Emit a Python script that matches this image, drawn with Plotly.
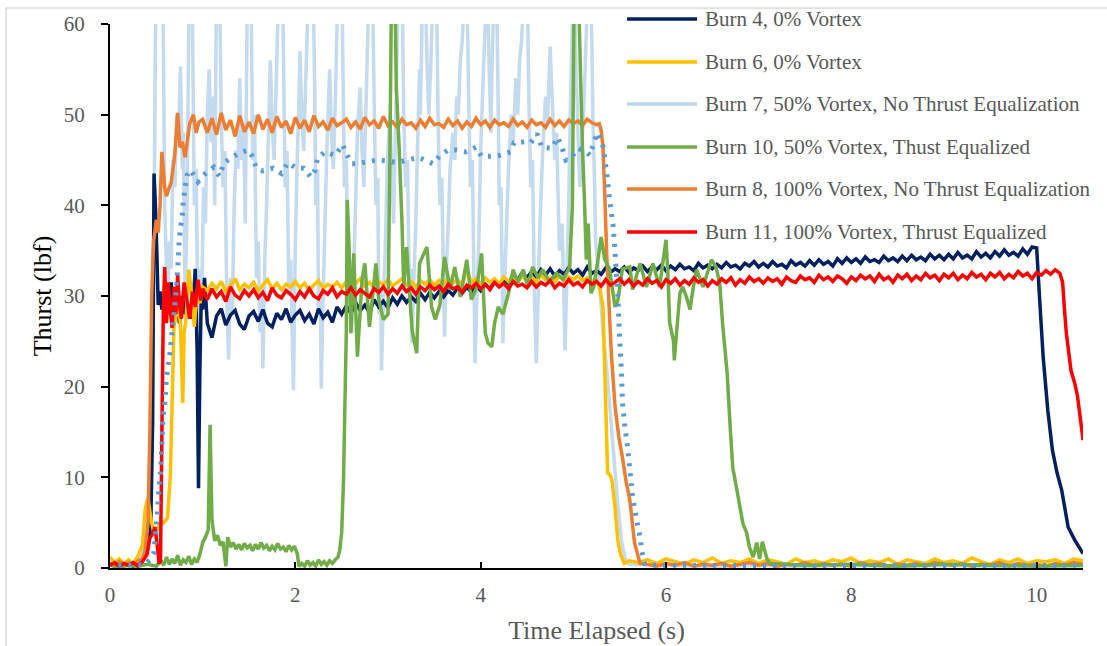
import plotly.graph_objects as go

# ---------------------------------------------------------------------------
# Thrust (lbf) versus elapsed time (s) for six motor burns.
# Irregular stretches are stored as (time, thrust) pairs; steady burning is
# stored as a start time, a sample step and the sampled thrust values.
# ---------------------------------------------------------------------------

SERIES_NAMES = [
    "Burn 4, 0% Vortex",
    "Burn 6, 0% Vortex",
    "Burn 7, 50% Vortex, No Thrust Equalization",
    "Burn 10, 50% Vortex, Thust Equalized",
    "Burn 8, 100% Vortex, No Thrust Equalization",
    "Burn 11, 100% Vortex, Thrust Equalized",
]
SERIES_COLORS = ["#002060", "#FFC000", "#BDD7EE", "#70AD47", "#ED7D31", "#FF0000"]
TREND_COLOR = "#5B9BD5"

X_TICKS = [0, 2, 4, 6, 8, 10]
Y_TICKS = [0, 10, 20, 30, 40, 50, 60]

# ---- Burn 4 -------------------------------------------------------------
B4_START = [
    (0.00, 0.5), (0.05, 0.2), (0.10, 0.6), (0.15, 0.3), (0.20, 0.5), (0.25, 0.2),
    (0.30, 0.6), (0.35, 0.8), (0.40, 2.0), (0.44, 4.5), (0.46, 16.0), (0.475, 43.5),
    (0.49, 40.0), (0.505, 35.0), (0.52, 29.0), (0.54, 30.5), (0.56, 28.5), (0.58, 30.0),
    (0.60, 27.5), (0.63, 29.0), (0.66, 31.5), (0.69, 28.0), (0.72, 29.5), (0.75, 27.0),
    (0.78, 30.0), (0.81, 28.0), (0.84, 29.0), (0.87, 27.5), (0.90, 29.5), (0.92, 33.0),
    (0.94, 24.0), (0.955, 8.8), (0.97, 22.0), (0.985, 30.0), (1.00, 28.5), (1.02, 32.0),
]
B4_RUN_T0, B4_RUN_DT = 1.05, 0.05
B4_RUN = [
    27.0, 25.4, 27.8, 28.6, 26.8, 27.9, 28.4, 26.9, 26.3, 27.8,
    28.3, 27.2, 28.5, 27.0, 26.6, 28.1, 27.4, 28.6, 27.1, 27.9,
    28.4, 27.3, 28.0, 26.9, 28.6, 27.6, 28.2, 27.1, 28.8, 28.0,
    28.9, 28.1, 29.3, 28.4, 29.0, 28.2, 29.6, 28.8, 29.4, 28.7,
    29.8, 29.1, 30.0, 29.3, 29.9, 29.4, 30.3, 29.6, 30.4, 29.8,
    30.5, 29.9, 30.6, 30.1, 30.9, 30.3, 31.0, 30.4, 31.2, 30.6,
    31.3, 30.8, 31.6, 31.1, 31.9, 31.4, 32.3, 31.8, 32.6, 32.0,
    32.7, 32.1, 32.9, 32.3, 33.0, 32.2, 32.8, 32.4, 33.1, 32.5,
    32.9, 32.3, 33.2, 32.5, 32.8, 32.4, 33.1, 32.6, 33.0, 32.7,
    33.2, 32.6, 33.1, 32.8, 33.3, 32.7, 33.2, 32.9, 33.4, 32.8,
    33.3, 32.9, 33.5, 33.0, 33.2, 32.8, 33.6, 33.1, 33.4, 33.0,
    33.5, 33.1, 33.7, 33.2, 33.4, 33.0, 33.6, 33.3, 33.8, 33.2,
    33.6, 33.2, 33.8, 33.3, 33.5, 33.1, 33.9, 33.4, 33.7, 33.3,
    33.9, 33.4, 34.0, 33.5, 33.8, 33.3, 34.1, 33.6, 34.2, 33.7,
    34.1, 33.6, 34.3, 33.8, 34.0, 33.7, 34.4, 33.9, 34.2, 33.8,
    34.4, 33.9, 34.5, 34.0, 34.3, 33.9, 34.6, 34.1, 34.5, 34.0,
    34.6, 34.1, 34.8, 34.2, 34.5, 34.1, 34.9, 34.3, 34.7, 34.2,
    34.9, 34.4, 35.1, 34.5, 34.8, 34.4, 35.2, 34.6, 35.4, 35.3,
]
B4_END = [
    (10.03, 30.0), (10.07, 23.3), (10.12, 17.4), (10.17, 13.0), (10.22, 10.5),
    (10.27, 8.6), (10.34, 4.5), (10.41, 3.1), (10.50, 1.6),
]

# ---- Burn 6 -------------------------------------------------------------
B6_START = [
    (0.00, 1.2), (0.05, 0.6), (0.10, 1.0), (0.15, 0.4), (0.20, 0.9), (0.25, 0.5),
    (0.30, 1.3), (0.35, 2.5), (0.38, 6.5), (0.41, 7.8), (0.44, 5.5), (0.47, 4.0),
    (0.50, 4.2), (0.54, 4.8), (0.58, 5.0), (0.62, 5.5), (0.65, 10.0), (0.67, 18.0),
    (0.69, 26.6), (0.71, 27.7), (0.73, 29.2), (0.76, 27.0), (0.785, 18.2), (0.80, 26.0),
    (0.82, 27.4), (0.85, 32.9), (0.88, 30.3), (0.91, 26.6), (0.94, 30.7), (0.97, 29.2),
    (1.00, 31.0),
]
B6_RUN_T0, B6_RUN_DT = 1.05, 0.05
B6_RUN = [
    30.6, 31.4, 30.8, 31.6, 30.5, 31.2, 31.9, 30.7, 31.3, 30.9,
    31.5, 30.6, 31.2, 31.8, 30.8, 31.4, 30.7, 31.3, 31.0, 31.6,
    30.9, 31.4, 30.6, 31.2, 31.7, 30.8, 31.3, 31.0, 31.5, 30.9,
    31.6, 31.0, 31.4, 31.9, 31.1, 31.5, 30.9, 31.6, 31.2, 31.8,
    31.1, 31.5, 31.9, 31.2, 31.6, 31.0, 31.7, 31.3, 31.8, 31.2,
    31.7, 31.3, 32.0, 31.4, 31.8, 31.2, 32.9, 31.5, 31.9, 31.4,
    32.0, 31.5, 31.9, 31.3, 32.1, 31.6, 32.0, 31.5, 32.2, 31.7,
    32.1, 31.6, 32.3, 31.8, 32.0, 31.6, 32.2, 31.7, 32.1, 31.8,
    32.2, 31.7, 32.0, 31.6, 31.8,
]
B6_END = [
    (5.28, 31.0), (5.30, 30.0), (5.32, 28.8), (5.34, 21.5), (5.37, 10.5), (5.40, 10.2),
    (5.42, 9.5), (5.45, 6.7), (5.48, 3.1), (5.51, 1.5), (5.55, 0.5), (5.60, 0.8),
]
B6_IDLE_T0, B6_IDLE_DT = 5.7, 0.1
B6_IDLE = [
    0.6, 0.9, 0.5, 1.0, 0.7, 0.4, 0.9, 0.6, 1.1, 0.5,
    0.8, 0.6, 1.0, 0.5, 0.9, 0.7, 0.4, 1.0, 0.6, 0.8,
    0.5, 0.9, 0.7, 1.1, 0.5, 0.8, 0.6, 1.0, 0.4, 0.9,
    0.7, 0.5, 1.0, 0.6, 0.8, 0.5, 1.1, 0.7, 0.4, 0.9,
    0.6, 1.0, 0.5, 0.8, 0.7, 0.9, 0.5, 1.0, 0.8,
]

# ---- Burn 7 (strong oscillation, values above 60 run off the top) -------
B7_BURN = [
    (0.00, 0.5), (0.05, 0.3), (0.10, 0.6), (0.15, 0.2), (0.20, 0.5), (0.25, 0.3),
    (0.30, 0.8), (0.35, 1.5), (0.40, 4.0), (0.44, 7.0), (0.47, 30.0), (0.49, 58.0),
    (0.50, 66.0), (0.53, 66.0), (0.55, 62.0), (0.57, 66.0), (0.59, 40.0), (0.61, 33.0),
    (0.62, 28.0), (0.64, 36.0), (0.66, 33.0), (0.68, 45.0), (0.70, 42.0), (0.72, 50.0),
    (0.74, 48.0), (0.76, 55.3), (0.78, 44.0), (0.79, 48.0), (0.81, 30.0), (0.83, 38.0),
    (0.85, 60.0), (0.86, 66.0), (0.88, 66.0), (0.89, 60.0), (0.91, 40.0), (0.93, 44.0),
    (0.95, 25.0), (0.97, 33.0), (0.99, 30.0), (1.01, 42.0), (1.03, 38.0), (1.05, 50.0),
    (1.07, 55.0), (1.09, 47.0), (1.11, 52.0), (1.13, 40.0), (1.15, 66.0), (1.18, 66.0),
    (1.20, 50.0), (1.22, 42.0), (1.24, 46.0), (1.26, 30.0), (1.28, 23.0), (1.30, 32.0),
    (1.32, 28.0), (1.34, 40.0), (1.36, 46.0), (1.38, 44.0), (1.40, 54.0), (1.42, 45.0),
    (1.44, 49.0), (1.46, 38.0), (1.48, 62.0), (1.50, 66.0), (1.52, 66.0), (1.54, 45.0),
    (1.56, 50.0), (1.58, 32.0), (1.60, 36.0), (1.62, 26.0), (1.64, 30.0), (1.65, 22.0),
    (1.67, 34.0), (1.69, 40.0), (1.71, 48.0), (1.73, 56.0), (1.75, 49.0), (1.77, 45.0),
    (1.79, 52.0), (1.82, 64.0), (1.84, 66.0), (1.86, 66.0), (1.88, 50.0), (1.89, 42.0),
    (1.91, 46.0), (1.93, 30.0), (1.95, 34.0), (1.98, 19.6), (2.00, 36.0), (2.02, 45.0),
    (2.04, 52.0), (2.05, 57.0), (2.07, 50.0), (2.09, 46.0), (2.11, 53.0), (2.14, 63.0),
    (2.16, 66.0), (2.19, 66.0), (2.21, 52.0), (2.22, 40.0), (2.24, 44.0), (2.25, 28.0),
    (2.27, 30.0), (2.28, 19.8), (2.30, 30.0), (2.32, 38.0), (2.34, 46.0), (2.37, 55.0),
    (2.39, 48.0), (2.41, 44.0), (2.43, 51.0), (2.46, 64.0), (2.48, 66.0), (2.50, 66.0),
    (2.52, 50.0), (2.53, 42.0), (2.55, 45.0), (2.57, 30.0), (2.59, 34.0), (2.61, 26.0),
    (2.63, 33.0), (2.65, 40.0), (2.67, 48.0), (2.70, 53.0), (2.72, 46.0), (2.74, 42.0),
    (2.76, 50.0), (2.79, 62.0), (2.81, 66.0), (2.83, 66.0), (2.85, 52.0), (2.87, 40.0),
    (2.89, 43.0), (2.90, 28.0), (2.92, 31.0), (2.93, 21.8), (2.95, 30.0), (2.97, 35.0),
    (2.99, 44.0), (3.02, 50.0), (3.04, 44.0), (3.06, 38.0), (3.08, 48.0), (3.11, 63.0),
    (3.13, 66.0), (3.15, 66.0), (3.17, 50.0), (3.19, 42.0), (3.21, 45.0), (3.23, 30.0),
    (3.25, 33.0), (3.26, 24.8), (3.28, 32.0), (3.30, 38.0), (3.32, 47.0), (3.34, 55.0),
    (3.35, 50.0), (3.37, 62.0), (3.39, 66.0), (3.40, 66.0), (3.42, 56.0), (3.44, 50.0),
    (3.46, 55.0), (3.48, 62.0), (3.50, 66.0), (3.52, 66.0), (3.54, 50.0), (3.56, 40.0),
    (3.58, 43.0), (3.61, 25.5), (3.63, 33.0), (3.65, 38.0), (3.67, 44.0), (3.70, 48.0),
    (3.72, 45.0), (3.74, 52.0), (3.76, 50.0), (3.78, 56.0), (3.80, 58.0), (3.82, 62.0),
    (3.84, 66.0), (3.85, 66.0), (3.87, 52.0), (3.89, 42.0), (3.91, 45.0), (3.94, 22.6),
    (3.96, 30.0), (3.98, 36.0), (4.00, 46.0), (4.03, 55.0), (4.05, 60.0), (4.07, 66.0),
    (4.09, 56.0), (4.11, 48.0), (4.12, 54.0), (4.14, 62.0), (4.16, 66.0), (4.17, 66.0),
    (4.19, 50.0), (4.20, 40.0), (4.22, 42.0), (4.24, 24.8), (4.26, 32.0), (4.28, 38.0),
    (4.30, 44.0), (4.33, 50.0), (4.35, 47.0), (4.38, 54.0), (4.40, 50.0), (4.42, 56.0),
    (4.44, 58.0), (4.46, 62.0), (4.48, 66.0), (4.50, 66.0), (4.52, 52.0), (4.54, 42.0),
    (4.56, 45.0), (4.58, 30.0), (4.60, 22.6), (4.62, 30.0), (4.64, 38.0), (4.67, 46.0),
    (4.70, 52.0), (4.72, 49.0), (4.75, 57.5), (4.77, 52.0), (4.80, 45.0), (4.82, 48.0),
    (4.85, 35.0), (4.88, 38.0), (4.91, 24.0), (4.93, 32.0), (4.95, 40.0), (4.97, 52.0),
    (5.00, 64.0), (5.02, 60.0), (5.03, 55.0), (5.05, 48.0), (5.07, 42.0), (5.09, 46.0),
    (5.11, 50.0), (5.13, 56.0), (5.15, 62.0), (5.17, 66.0), (5.18, 66.0), (5.20, 58.0),
    (5.21, 50.0), (5.23, 42.0), (5.24, 36.0), (5.26, 34.0), (5.28, 32.0), (5.32, 26.0),
    (5.36, 22.0), (5.40, 17.0), (5.44, 12.0), (5.48, 7.0), (5.52, 3.0), (5.56, 1.0),
    (5.60, 0.4), (6.00, 0.3), (6.50, 0.2), (7.00, 0.3), (7.50, 0.2), (8.00, 0.3),
    (8.50, 0.2), (9.00, 0.3), (9.50, 0.2), (10.00, 0.3), (10.50, 0.2),
]

# Moving-average trend of Burn 7
B7_TREND = [
    (0.09, 0.3), (0.25, 0.3), (0.38, 0.4), (0.44, 1.0), (0.47, 1.6), (0.49, 3.3),
    (0.51, 6.0), (0.53, 8.9), (0.545, 10.6), (0.56, 13.6), (0.57, 16.5), (0.59, 18.0),
    (0.60, 19.5), (0.61, 21.0), (0.63, 22.5), (0.65, 24.0), (0.68, 27.0), (0.71, 29.9),
    (0.73, 32.9), (0.745, 35.8), (0.76, 37.5), (0.78, 38.9), (0.79, 40.4), (0.81, 41.9),
    (0.83, 43.3), (0.87, 43.9), (0.95, 42.6), (1.03, 43.5), (1.12, 44.2), (1.18, 43.2),
    (1.23, 44.7), (1.29, 45.1), (1.38, 45.7), (1.49, 46.1), (1.53, 45.5), (1.58, 44.1),
    (1.65, 43.8), (1.76, 44.1), (1.85, 43.5), (1.92, 44.7), (2.01, 44.1), (2.09, 44.1),
    (2.17, 43.1), (2.21, 43.8), (2.24, 45.2), (2.32, 45.9), (2.43, 45.5), (2.51, 46.7),
    (2.55, 45.7), (2.61, 44.6), (2.67, 44.6), (2.77, 44.8), (2.88, 45.0), (2.98, 44.9),
    (3.10, 44.7), (3.21, 45.0), (3.33, 45.3), (3.42, 44.9), (3.49, 44.6), (3.56, 45.5),
    (3.65, 46.1), (3.74, 46.1), (3.84, 45.9), (3.95, 46.4), (4.01, 45.4), (4.10, 45.4),
    (4.20, 45.5), (4.32, 45.9), (4.36, 46.9), (4.47, 47.0), (4.54, 46.9), (4.61, 47.9),
    (4.66, 46.4), (4.77, 46.3), (4.83, 47.5), (4.88, 46.3), (4.92, 45.0), (4.98, 45.3),
    (5.05, 46.3), (5.15, 45.8), (5.18, 45.5), (5.22, 46.9), (5.26, 48.0), (5.32, 46.5),
    (5.36, 43.6), (5.39, 40.7), (5.43, 37.7), (5.45, 34.8), (5.48, 30.2), (5.50, 25.1),
    (5.52, 21.5), (5.53, 18.2), (5.56, 15.2), (5.58, 13.8), (5.61, 10.8), (5.64, 7.8),
    (5.69, 4.9), (5.72, 3.4), (5.74, 1.8), (5.77, 0.5), (5.90, 0.3), (6.50, 0.3),
    (7.50, 0.25), (8.50, 0.3), (9.50, 0.25), (10.50, 0.3),
]

# ---- Burn 10 ------------------------------------------------------------
B10_BURN = [
    (0.00, 0.3), (0.10, 0.1), (0.20, 0.3), (0.30, 0.2), (0.40, 0.4), (0.50, 0.2),
    (0.55, 0.8), (0.58, 0.3), (0.61, 1.2), (0.64, 0.4), (0.67, 1.0), (0.70, 0.5),
    (0.73, 1.4), (0.76, 0.3), (0.79, 0.9), (0.82, 0.6), (0.85, 1.3), (0.88, 0.4),
    (0.91, 1.0), (0.94, 0.6), (0.97, 1.5), (1.00, 2.8), (1.03, 3.4), (1.06, 4.2),
    (1.08, 15.8), (1.10, 5.3), (1.13, 3.0), (1.16, 3.6), (1.19, 2.5), (1.22, 2.9),
    (1.25, 0.2), (1.27, 3.4), (1.30, 2.3), (1.33, 2.8), (1.36, 2.1), (1.39, 2.6),
    (1.42, 2.0), (1.45, 2.7), (1.48, 2.2), (1.51, 2.5), (1.54, 1.9), (1.57, 2.6),
    (1.60, 2.1), (1.63, 2.8), (1.66, 2.2), (1.69, 2.5), (1.72, 1.9), (1.75, 2.4),
    (1.78, 2.0), (1.81, 2.7), (1.84, 2.1), (1.87, 2.3), (1.90, 1.8), (1.93, 2.5),
    (1.96, 2.0), (1.99, 2.4), (2.02, 1.6), (2.04, 0.2), (2.07, 0.5), (2.10, 0.2),
    (2.13, 0.8), (2.16, 0.3), (2.19, 0.6), (2.22, 0.2), (2.25, 0.9), (2.28, 0.4),
    (2.31, 0.7), (2.34, 0.3), (2.37, 0.8), (2.40, 0.5), (2.43, 0.9), (2.46, 1.2),
    (2.48, 2.0), (2.50, 3.9), (2.52, 9.7), (2.54, 20.7), (2.55, 26.0), (2.56, 40.6),
    (2.58, 35.4), (2.60, 25.9), (2.63, 34.7), (2.67, 23.3), (2.72, 31.8), (2.75, 33.6),
    (2.80, 26.6), (2.87, 33.6), (2.90, 29.6), (2.95, 27.4), (3.00, 28.0), (3.02, 45.0),
    (3.04, 66.0), (3.07, 66.0), (3.09, 53.0), (3.12, 46.4), (3.15, 38.4), (3.17, 31.0),
    (3.20, 35.4), (3.26, 26.2), (3.31, 23.7), (3.34, 33.6), (3.42, 35.4), (3.47, 28.8),
    (3.51, 27.4), (3.56, 29.0), (3.61, 34.3), (3.67, 30.7), (3.72, 33.2), (3.78, 29.9),
    (3.85, 34.0), (3.90, 29.6), (3.96, 31.0), (4.01, 34.7), (4.05, 25.9), (4.08, 24.8),
    (4.12, 24.4), (4.15, 27.0), (4.19, 28.8), (4.24, 28.0), (4.30, 30.3), (4.35, 32.9),
    (4.40, 31.5), (4.46, 32.9), (4.51, 31.0), (4.56, 33.2), (4.62, 32.0), (4.67, 32.9),
    (4.74, 31.6), (4.82, 32.5), (4.89, 31.8), (4.96, 33.2), (4.99, 40.0), (5.01, 66.0),
    (5.05, 66.0), (5.08, 53.4), (5.10, 46.0), (5.12, 40.6), (5.14, 34.0), (5.16, 38.0),
    (5.19, 30.3), (5.22, 31.0), (5.26, 33.6), (5.30, 36.5), (5.34, 34.0), (5.39, 33.0),
    (5.45, 28.8), (5.48, 29.5), (5.53, 33.0), (5.61, 33.2), (5.64, 30.7), (5.72, 33.6),
    (5.79, 31.0), (5.86, 33.6), (5.93, 31.0), (6.00, 36.2), (6.02, 32.5), (6.04, 27.0),
    (6.08, 25.1), (6.09, 22.9), (6.11, 25.5), (6.15, 30.3), (6.18, 31.0), (6.22, 29.9),
    (6.26, 28.5), (6.29, 30.7), (6.33, 32.9), (6.40, 31.0), (6.49, 34.0), (6.54, 33.2),
    (6.58, 31.4), (6.61, 27.0), (6.66, 21.5), (6.69, 16.0), (6.72, 11.1), (6.76, 8.9),
    (6.83, 4.9), (6.87, 3.9), (6.90, 2.3), (6.94, 1.2), (6.98, 2.8), (7.01, 1.0),
    (7.04, 2.9), (7.09, 1.0), (7.12, 0.5), (7.50, 0.3), (8.00, 0.4), (8.50, 0.2),
    (9.00, 0.4), (9.50, 0.3), (10.00, 0.2), (10.50, 0.3),
]

# ---- Burn 8 -------------------------------------------------------------
B8_START = [
    (0.00, 0.6), (0.05, 0.3), (0.10, 0.7), (0.15, 0.4), (0.20, 0.6), (0.25, 0.3),
    (0.30, 0.8), (0.35, 1.0), (0.38, 2.0), (0.41, 5.0), (0.43, 15.0), (0.45, 30.0),
    (0.47, 36.0), (0.50, 38.4), (0.52, 37.0), (0.54, 40.0), (0.56, 45.9), (0.575, 44.0),
    (0.59, 42.0), (0.61, 41.0), (0.63, 41.7), (0.66, 42.5), (0.70, 45.7), (0.73, 50.2),
    (0.755, 46.4), (0.78, 47.0), (0.81, 45.3), (0.84, 47.5), (0.86, 49.0), (0.90, 50.0),
    (0.93, 48.0), (0.96, 49.2), (1.00, 49.5),
]
B8_RUN_T0, B8_RUN_DT = 1.05, 0.05
B8_RUN = [
    48.0, 49.6, 47.8, 50.2, 48.3, 49.4, 47.6, 49.9, 48.1, 49.2,
    47.9, 50.0, 48.4, 49.5, 48.0, 49.8, 48.6, 49.3, 47.9, 49.7,
    48.5, 49.4, 48.1, 49.9, 48.7, 49.2, 48.3, 49.6, 48.8, 49.1,
    49.5, 48.6, 49.2, 48.4, 49.7, 48.9, 49.3, 48.5, 49.8, 48.8,
    49.2, 48.6, 49.5, 48.9, 49.1, 48.5, 49.4, 48.7, 49.6, 48.9,
    49.0, 48.6, 49.5, 48.8, 49.3, 48.5, 49.2, 48.7, 49.6, 48.9,
    49.3, 48.6, 49.4, 48.9, 49.1, 48.7, 49.5, 48.8, 49.2, 48.6,
    49.4, 48.9, 49.1, 48.6, 49.5, 48.8, 49.3, 48.7, 49.4, 49.0,
    49.3, 48.8, 49.5, 49.1, 48.9,
]
B8_END = [
    (5.28, 49.0), (5.30, 48.3), (5.32, 46.4), (5.34, 41.0), (5.36, 34.7), (5.39, 28.0),
    (5.41, 23.7), (5.45, 17.8), (5.49, 14.5), (5.53, 12.2), (5.57, 9.5), (5.61, 7.5),
    (5.66, 2.8), (5.72, 0.5),
]
B8_IDLE_T0, B8_IDLE_DT = 5.8, 0.1
B8_IDLE = [
    0.4, 0.2, 0.5, 0.3, 0.6, 0.2, 0.4, 0.3, 0.5, 0.2,
    0.4, 0.6, 0.3, 0.5, 0.2, 0.4, 0.3, 0.6, 0.2, 0.5,
    0.3, 0.4, 0.2, 0.6, 0.3, 0.5, 0.2, 0.4, 0.3, 0.5,
    0.2, 0.6, 0.4, 0.3, 0.5, 0.2, 0.4, 0.3, 0.6, 0.2,
    0.5, 0.3, 0.4, 0.2, 0.5, 0.3, 0.6, 0.4,
]

# ---- Burn 11 ------------------------------------------------------------
B11_START = [
    (0.00, 0.3), (0.05, 0.6), (0.10, 0.2), (0.15, 0.5), (0.20, 0.3), (0.25, 0.6),
    (0.30, 0.2), (0.35, 0.7), (0.40, 1.5), (0.43, 3.3), (0.46, 3.8), (0.485, 4.5),
    (0.51, 2.5), (0.53, 0.5), (0.545, 0.8), (0.56, 15.0), (0.575, 28.0), (0.59, 33.2),
    (0.61, 27.0), (0.63, 31.5), (0.65, 28.5), (0.67, 26.5), (0.69, 31.0), (0.71, 28.0),
    (0.73, 32.3), (0.75, 29.0), (0.77, 27.5), (0.80, 31.5), (0.83, 29.5), (0.86, 27.5),
    (0.89, 30.5), (0.92, 28.8), (0.95, 31.8), (0.98, 29.5), (1.00, 30.8),
]
B11_RUN_T0, B11_RUN_DT = 1.05, 0.05
B11_RUN = [
    29.6, 30.8, 29.9, 30.5, 29.4, 31.0, 30.1, 29.7, 30.6, 30.0,
    30.7, 29.8, 30.4, 29.5, 30.9, 30.1, 29.8, 30.6, 30.2, 29.6,
    30.5, 29.9, 30.8, 30.0, 29.7, 30.6, 30.2, 30.9, 29.9, 30.5,
    30.2, 30.9, 30.1, 30.7, 30.3, 29.9, 30.8, 30.4, 31.0, 30.2,
    30.8, 30.3, 31.1, 30.5, 30.9, 30.2, 31.0, 30.6, 31.2, 30.7,
    31.1, 30.5, 31.3, 30.8, 31.0, 30.4, 31.2, 30.9, 31.4, 30.8,
    31.3, 30.7, 31.5, 31.0, 31.4, 30.8, 31.6, 31.1, 31.3, 30.9,
    31.6, 31.0, 31.5, 31.2, 31.7, 30.9, 31.4, 31.1, 31.8, 31.2,
    31.5, 31.0, 31.7, 31.3, 31.6, 31.1, 31.8, 31.2, 31.5, 31.9,
    31.3, 31.8, 31.1, 31.6, 31.2, 31.9, 31.4, 31.7, 31.0, 31.8,
    31.4, 31.9, 31.2, 31.7, 31.3, 32.0, 31.5, 31.8, 31.1, 31.7,
    31.3, 31.9, 31.5, 32.0, 31.2, 31.8, 31.4, 32.1, 31.6, 31.9,
    31.4, 32.0, 31.6, 31.9, 31.3, 32.1, 31.7, 31.5, 32.2, 31.8,
    32.0, 31.5, 32.3, 31.8, 32.1, 31.6, 32.2, 31.9, 31.4, 32.1,
    31.7, 32.3, 31.9, 32.2, 31.6, 32.4, 31.8, 32.1, 31.5, 32.3,
    31.9, 32.4, 31.7, 32.2, 31.8, 32.5, 32.0, 32.3, 31.7, 32.4,
    32.0, 32.5, 31.8, 32.3, 31.9, 32.6, 32.1, 32.4, 31.8, 32.5,
    32.1, 32.6, 31.9, 32.4, 32.0, 32.7, 32.2, 32.5, 31.9, 32.6,
    32.3, 32.8, 32.4, 32.9, 32.5,
]
B11_END = [
    (10.28, 31.5), (10.30, 28.5), (10.32, 25.9), (10.35, 23.5), (10.37, 21.8),
    (10.41, 20.4), (10.44, 19.0), (10.46, 17.4), (10.48, 15.8), (10.50, 14.1),
]


# ---------------------------------------------------------------------------
def from_pairs(pairs):
    return [p[0] for p in pairs], [p[1] for p in pairs]


def from_samples(t0, dt, values):
    return [round(t0 + i * dt, 4) for i in range(len(values))], list(values)


def join(*segments):
    t, y = [], []
    for seg_t, seg_y in segments:
        t.extend(seg_t)
        y.extend(seg_y)
    return t, y


burn4 = join(from_pairs(B4_START), from_samples(B4_RUN_T0, B4_RUN_DT, B4_RUN), from_pairs(B4_END))
burn6 = join(from_pairs(B6_START), from_samples(B6_RUN_T0, B6_RUN_DT, B6_RUN),
             from_pairs(B6_END), from_samples(B6_IDLE_T0, B6_IDLE_DT, B6_IDLE))
burn7 = from_pairs(B7_BURN)
burn7_trend = from_pairs(B7_TREND)
burn10 = from_pairs(B10_BURN)
burn8 = join(from_pairs(B8_START), from_samples(B8_RUN_T0, B8_RUN_DT, B8_RUN),
             from_pairs(B8_END), from_samples(B8_IDLE_T0, B8_IDLE_DT, B8_IDLE))
burn11 = join(from_pairs(B11_START), from_samples(B11_RUN_T0, B11_RUN_DT, B11_RUN), from_pairs(B11_END))

series = [burn4, burn6, burn7, burn10, burn8, burn11]

# drawing order: pale Burn 7 at the back, Burn 11 on top, trend above all
draw_order = [2, 0, 1, 4, 3, 5]

SERIF = "Liberation Serif, Times New Roman, serif"
GREY = "#595959"

fig = go.Figure()
for i in draw_order:
    t, y = series[i]
    fig.add_trace(go.Scatter(
        x=t, y=y, mode="lines", name=SERIES_NAMES[i], showlegend=False,
        line=dict(color=SERIES_COLORS[i], width=3.5, simplify=False),
        opacity=0.9 if i == 2 else 1.0,
    ))

fig.add_trace(go.Scatter(
    x=burn7_trend[0], y=burn7_trend[1], mode="lines", showlegend=False,
    name="Burn 7 moving average",
    line=dict(color=TREND_COLOR, width=5, dash="3px,7px", simplify=False),
))

# legend drawn as sample lines + labels in the plot's upper right
L_X0, L_X1, L_TEXT = 0.5314, 0.6033, 0.6095
L_ROWS = [1.0092, 0.9301, 0.8529, 0.7739, 0.6967, 0.6176]
shapes = []
annotations = []
for name, color, ly in zip(SERIES_NAMES, SERIES_COLORS, L_ROWS):
    shapes.append(dict(type="line", xref="paper", yref="paper", x0=L_X0, x1=L_X1,
                       y0=ly, y1=ly, line=dict(color=color, width=3.5)))
    annotations.append(dict(xref="paper", yref="paper", x=L_TEXT, y=ly, text=name,
                            showarrow=False, xanchor="left", yanchor="middle",
                            font=dict(family=SERIF, size=21, color=GREY)))

# light frame around the whole chart
shapes.append(dict(type="rect", xref="paper", yref="paper",
                   x0=-0.1069, x1=1.2, y0=-0.3, y1=1.0294,
                   line=dict(color="#D9D9D9", width=1.5), layer="below"))

fig.update_layout(
    width=1107, height=646,
    margin=dict(l=110, r=24, t=24, b=78, autoexpand=False),
    paper_bgcolor="white", plot_bgcolor="white",
    showlegend=False,
    shapes=shapes, annotations=annotations,
    font=dict(family=SERIF, color=GREY),
    xaxis=dict(
        range=[0, 10.5], tickvals=X_TICKS, ticktext=[str(v) for v in X_TICKS],
        showgrid=False, zeroline=False, showline=True, linecolor="black", linewidth=2,
        ticks="inside", ticklen=6, tickwidth=2, tickcolor="black",
        ticklabelstandoff=7, automargin=False,
        tickfont=dict(family=SERIF, size=21, color=GREY),
        title=dict(text="Time Elapsed (s)", font=dict(family=SERIF, size=26, color=GREY), standoff=15),
    ),
    yaxis=dict(
        range=[0, 60], tickvals=Y_TICKS, ticktext=[str(v) for v in Y_TICKS],
        showgrid=False, zeroline=False, showline=True, linecolor="black", linewidth=2,
        ticks="outside", ticklen=7, tickwidth=2, tickcolor="black",
        ticklabelstandoff=12, automargin=False,
        tickfont=dict(family=SERIF, size=21, color=GREY),
        title=dict(text="Thurst (lbf)", font=dict(family=SERIF, size=26, color="black"), standoff=5),
    ),
)

fig.write_html("out.html")
